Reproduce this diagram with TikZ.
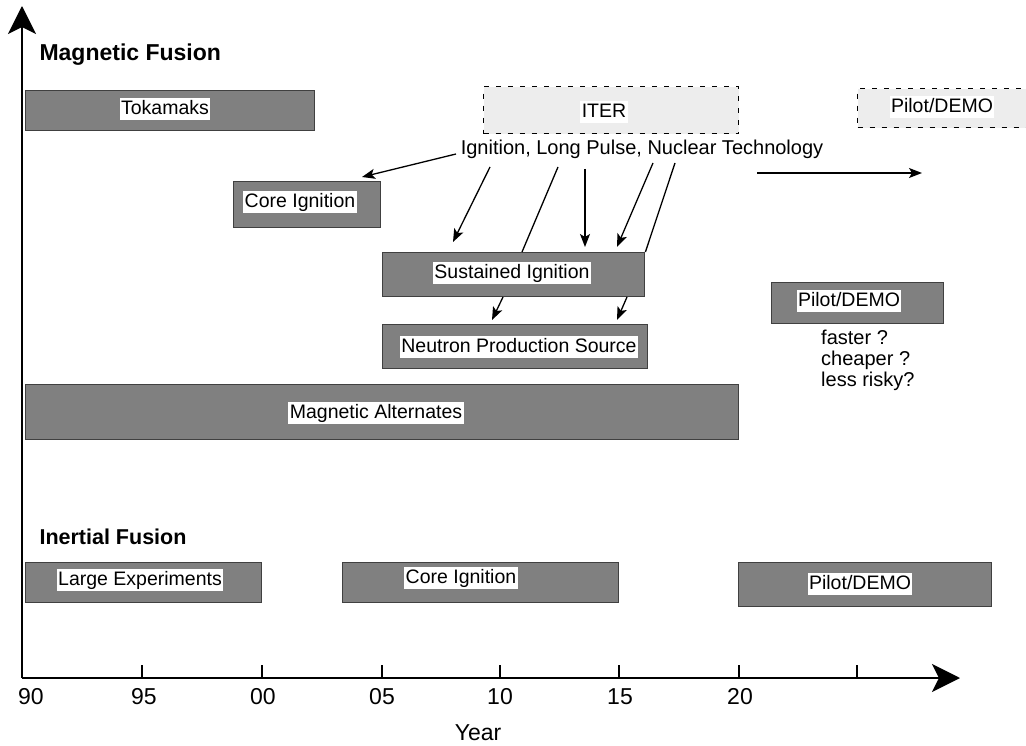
\documentclass[tikz,border=0pt]{standalone}
\usepackage{fontspec}
\setmainfont{Liberation Sans}
\usetikzlibrary{arrows.meta}
\begin{document}
\begin{tikzpicture}[x=1pt,y=-1pt,
 bar/.style={draw=black!75, line width=1.4pt, fill=black!50, anchor=north west, inner sep=0pt},
 plan/.style={fill=black!7, draw=black, dash pattern=on 5pt off 7pt, line width=1.3pt, anchor=north west, inner sep=0pt},
 lab/.style={fill=white, inner xsep=1.5pt, inner ysep=2pt, font=\fontsize{19.5}{22}\selectfont, text height=14.5pt, text depth=4pt},
 head/.style={font=\bfseries\fontsize{23}{26}\selectfont, anchor=west},
 txt/.style={font=\fontsize{20}{23}\selectfont},
 ticklab/.style={font=\fontsize{23}{26}\selectfont},
 axis/.style={line width=2.2pt, -{Stealth[length=28pt,width=28pt,inset=7pt]}},
 arr/.style={line width=1.3pt, -{Stealth[length=13pt,width=10pt,inset=3pt]}},
 ln/.style={line width=1.3pt}
]
\useasboundingbox (0,0) rectangle (1026,746);

% axes
\coordinate (o) at (22,678);
\coordinate (ytop) at (22,6);
\coordinate (xend) at (960,678);
\draw[axis] (o) -- (ytop);
\draw[axis] (o) -- (xend);
\foreach \x in {142,262,382,500,619,739,857}
  \draw[line width=1.3pt] (\x,665) -- (\x,678);
\node[ticklab] (t90) at (31,697) {90};
\node[ticklab] (t95) at (144,697) {95};
\node[ticklab] (t00) at (263,697) {00};
\node[ticklab] (t05) at (382,697) {05};
\node[ticklab] (t10) at (500,697) {10};
\node[ticklab] (t15) at (620,697) {15};
\node[ticklab] (t20) at (740,697) {20};
\node[ticklab] (year) at (478,733) {Year};

% headings
\node[head] (mf) at (36,55) {Magnetic Fusion};
\node[head, font=\bfseries\fontsize{21.5}{24}\selectfont] (inf) at (36,537) {Inertial Fusion};

% magnetic boxes
\node[bar, minimum width=289pt, minimum height=40pt] (tok) at (25,90) {};
\node[lab] (tokl) at (165,109) {Tokamaks};

\node[plan, minimum width=255pt, minimum height=47pt] (iter) at (483,86) {};
\node[lab] (iterl) at (604,112) {ITER};

\node[plan, minimum width=170pt, minimum height=39pt] (pd1) at (857,88) {};
\node[lab] (pd1l) at (942,107) {Pilot/DEMO};

\node[txt] (ign) at (642,149) {Ignition, Long Pulse, Nuclear Technology};

\node[bar, minimum width=147pt, minimum height=46pt] (ci) at (233,181) {};
\node[lab] (cil) at (300,202) {Core Ignition};

\node[bar, minimum width=262pt, minimum height=44pt] (si) at (382,252) {};
\node[lab] (sil) at (512,273) {Sustained Ignition};

\node[bar, minimum width=265pt, minimum height=44pt] (nps) at (382,324) {};
\node[lab] (npsl) at (519,347) {Neutron Production Source};

\node[bar, minimum width=713pt, minimum height=55pt] (ma) at (25,384) {};
\node[lab] (mal) at (376,413) {Magnetic Alternates};

\node[bar, minimum width=172pt, minimum height=41pt] (pd2) at (771,282) {};
\node[lab] (pd2l) at (849,301) {Pilot/DEMO};

\node[anchor=north west, align=left, inner sep=0pt, font=\fontsize{20}{21}\selectfont] (q) at (821,330)
  {faster ?\\cheaper ?\\less risky?};

% inertial boxes
\node[bar, minimum width=236pt, minimum height=40pt] (le) at (25,562) {};
\node[lab] (lel) at (140,580) {Large Experiments};

\node[bar, minimum width=276pt, minimum height=40pt] (ci2) at (342,562) {};
\node[lab] (ci2l) at (461,578) {Core Ignition};

\node[bar, minimum width=253pt, minimum height=44pt] (pd3) at (738,562) {};
\node[lab] (pd3l) at (860,584) {Pilot/DEMO};

% arrows
\coordinate (a0s) at (456,154);
\coordinate (a0e) at (362,177);
\coordinate (a1s) at (490,167);
\coordinate (a1e) at (453,242);
\coordinate (l2s) at (558,167);
\coordinate (l2e) at (522,252);
\coordinate (a3s) at (585,169);
\coordinate (a3e) at (585,247);
\coordinate (a4s) at (653,163);
\coordinate (a4e) at (617,247);
\coordinate (l5s) at (675,163);
\coordinate (b1s) at (503,297);
\coordinate (b1e) at (492,320);
\coordinate (b2s) at (627,297);
\coordinate (b2e) at (617,320);
\coordinate (ls) at (757,173);
\coordinate (le2) at (922,173);

\draw[arr] (a0s) -- (a0e);
\draw[arr] (a1s) -- (a1e);
\draw[ln] (l2s) -- (l2e);
\draw[arr] (a3s) -- (a3e);
\draw[arr] (a4s) -- (a4e);
\draw[ln] (l5s) -- (si.north east);
\draw[arr] (b1s) -- (b1e);
\draw[arr] (b2s) -- (b2e);
\draw[arr] (ls) -- (le2);
\end{tikzpicture}
\end{document}
